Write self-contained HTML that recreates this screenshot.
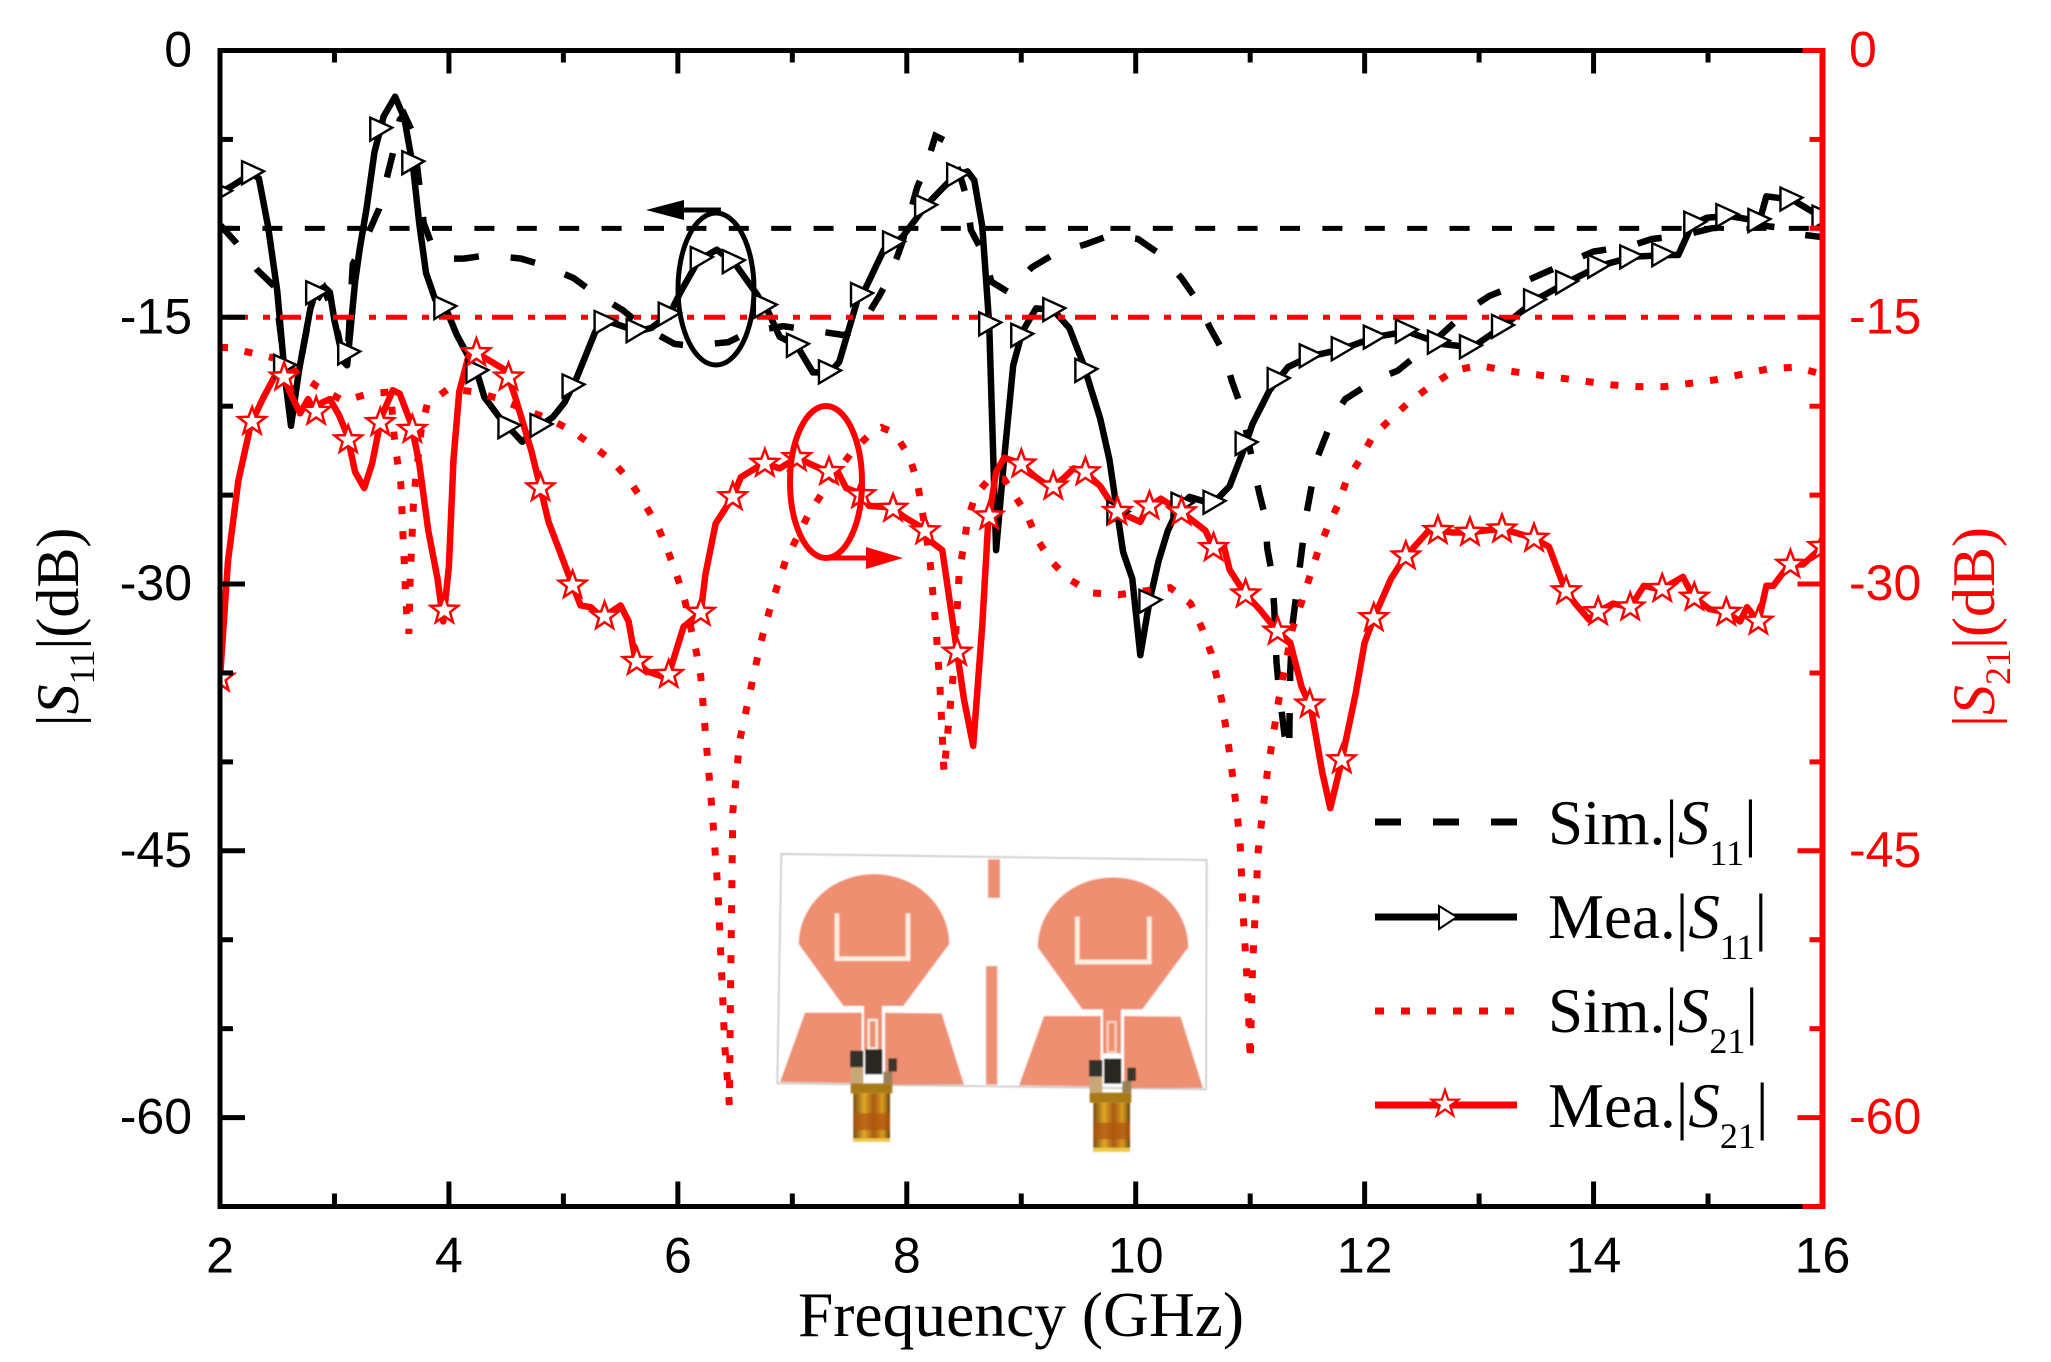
<!DOCTYPE html>
<html lang="en">
<head>
<meta charset="utf-8">
<title>S-parameter chart</title>
<style>
html,body{margin:0;padding:0;background:#fff;width:2051px;height:1362px;overflow:hidden}
svg{display:block}
text{font-family:"Liberation Sans",sans-serif}
.serif,.serif tspan{font-family:"Liberation Serif",serif}
</style>
</head>
<body>
<svg id="chart" xmlns="http://www.w3.org/2000/svg" width="2051" height="1362" viewBox="0 0 2051 1362">
<defs>
<clipPath id="plot-clip"><rect x="220" y="50" width="1603" height="1157"/></clipPath>
<linearGradient id="barrel" x1="0" y1="0" x2="1" y2="0">
<stop offset="0" stop-color="#7a4a10"/><stop offset=".3" stop-color="#e0a828"/><stop offset=".55" stop-color="#a85a12"/><stop offset=".8" stop-color="#d89a20"/><stop offset="1" stop-color="#6a4410"/>
</linearGradient>
<filter id="soft" x="-5%" y="-5%" width="110%" height="110%"><feGaussianBlur stdDeviation="2"/></filter>
</defs>
<rect x="0" y="0" width="2051" height="1362" fill="#fff"/>

<g id="series-layer" clip-path="url(#plot-clip)"></g>

<g transform="translate(760,840) scale(0.33333)">
  <g filter="url(#soft)">
  <polygon points="64,42 1340,60 1338,748 52,730" fill="#fff" stroke="#c8c8c8" stroke-width="5"/>
  <g fill="#ef8f72">
    <path d="M116,312 A226,210 0 1 1 568,312 L430,498 L250,498 Z"/>
    <rect x="312" y="495" width="54" height="135"/>
    <polygon points="135,518 305,518 305,730 60,726"/>
    <polygon points="375,518 545,520 612,734 375,734"/>
    <path d="M231,220 V356 H444 V220" fill="none" stroke="#fbeee2" stroke-width="14"/>
    <rect x="326" y="540" width="24" height="85" fill="none" stroke="#fbeee2" stroke-width="7"/>
  </g>
  <g fill="#ef8f72" transform="translate(717,10)">
    <path d="M116,312 A226,210 0 1 1 568,312 L430,498 L250,498 Z"/>
    <rect x="312" y="495" width="54" height="135"/>
    <polygon points="135,518 305,518 305,730 60,726"/>
    <polygon points="375,518 545,520 612,734 375,734"/>
    <path d="M235,220 V356 H451 V220" fill="none" stroke="#fbeee2" stroke-width="14"/>
    <rect x="326" y="536" width="24" height="90" fill="none" stroke="#f7d0bc" stroke-width="7"/>
  </g>
  <rect x="684" y="58" width="36" height="116" fill="#ef8f72"/>
  <rect x="678" y="378" width="34" height="356" fill="#ef8f72"/>
  <g>
    <rect x="270" y="632" width="40" height="50" fill="#33302a"/>
    <rect x="315" y="628" width="52" height="75" fill="#2a2824"/>
    <rect x="385" y="655" width="26" height="40" fill="#3a362c"/>
    <rect x="272" y="682" width="38" height="48" fill="#c9a878"/>
    <rect x="370" y="695" width="27" height="35" fill="#9a8058"/>
    <rect x="272" y="730" width="125" height="30" fill="#a87a12"/>
    <rect x="280" y="760" width="110" height="145" fill="url(#barrel)"/>
    <rect x="280" y="820" width="110" height="50" fill="#b0560f" opacity=".75"/>
    <rect x="280" y="895" width="110" height="10" fill="#f0c848"/>
  </g>
  <g transform="translate(717,28)">
    <rect x="270" y="632" width="40" height="50" fill="#33302a"/>
    <rect x="315" y="628" width="52" height="75" fill="#2a2824"/>
    <rect x="385" y="655" width="26" height="40" fill="#3a362c"/>
    <rect x="272" y="682" width="38" height="48" fill="#c9a878"/>
    <rect x="370" y="695" width="27" height="35" fill="#9a8058"/>
    <rect x="272" y="730" width="125" height="30" fill="#a87a12"/>
    <rect x="283" y="760" width="110" height="147" fill="url(#barrel)"/>
    <rect x="283" y="820" width="110" height="50" fill="#b0560f" opacity=".75"/>
    <rect x="283" y="895" width="110" height="12" fill="#f0c848"/>
  </g>
  </g>
</g>

<g id="ref-layer" clip-path="url(#plot-clip)"></g>
<g id="marker-layer" clip-path="url(#plot-clip)"></g>

<g>
  <ellipse cx="716" cy="289" rx="38" ry="76" fill="none" stroke="#000" stroke-width="5"/>
  <line x1="721" y1="210" x2="680" y2="210" stroke="#000" stroke-width="5"/>
  <polygon points="646,210 684,200 684,220" fill="#000"/>
</g>
<g>
  <ellipse cx="826" cy="482" rx="36" ry="76" fill="none" stroke="#f00" stroke-width="6"/>
  <line x1="826" y1="558" x2="870" y2="558" stroke="#f00" stroke-width="5"/>
  <polygon points="903,558 866,547 866,569" fill="#f00"/>
</g>

<g id="axis-layer"></g>

<text class="serif" x="1021" y="1336" text-anchor="middle" font-size="63.5" fill="#000">Frequency (GHz)</text>
<text class="serif" transform="translate(78,627) rotate(-90)" text-anchor="middle" font-size="60" fill="#000">|<tspan font-style="italic">S</tspan><tspan font-size="36" dy="16">11</tspan><tspan dy="-16">|(dB)</tspan></text>
<text class="serif" transform="translate(1994,627) rotate(-90)" text-anchor="middle" font-size="60" fill="#f00">|<tspan font-style="italic">S</tspan><tspan font-size="36" dy="16">21</tspan><tspan dy="-16">|(dB)</tspan></text>

<g>
  <g>
    <line x1="1375" y1="822" x2="1517" y2="822" stroke="#000" stroke-width="7" stroke-dasharray="26 32"/>
    <text class="serif" x="1548" y="844" font-size="63" fill="#000">Sim.|<tspan font-style="italic">S</tspan><tspan font-size="36" dy="21">11</tspan><tspan dy="-21">|</tspan></text>
  </g>
  <g>
    <line x1="1375" y1="917" x2="1517" y2="917" stroke="#000" stroke-width="7"/>
    <polygon points="1439,906 1439,929 1457,917" fill="#fff" stroke="#000" stroke-width="2"/>
    <text class="serif" x="1548" y="938" font-size="63" fill="#000">Mea.|<tspan font-style="italic">S</tspan><tspan font-size="36" dy="21">11</tspan><tspan dy="-21">|</tspan></text>
  </g>
  <g>
    <line x1="1375" y1="1011" x2="1517" y2="1011" stroke="#f00" stroke-width="7" stroke-dasharray="9 17"/>
    <text class="serif" x="1548" y="1032" font-size="63" fill="#000">Sim.|<tspan font-style="italic">S</tspan><tspan font-size="36" dy="21">21</tspan><tspan dy="-21">|</tspan></text>
  </g>
  <g>
    <line x1="1375" y1="1105" x2="1517" y2="1105" stroke="#f00" stroke-width="7"/>
    <polygon id="legend-star" fill="#fff" stroke="#f00" stroke-width="2.2"/>
    <text class="serif" x="1548" y="1127" font-size="63" fill="#000">Mea.|<tspan font-style="italic">S</tspan><tspan font-size="36" dy="21">21</tspan><tspan dy="-21">|</tspan></text>
  </g>
</g>
</svg>

<script>
// ---- chart data ----
const xTickLabels = [2,4,6,8,10,12,14,16];
const xMinorTicks = [3,5,7,9,11,13,15];
const yTickLabels = [0,-15,-30,-45,-60];
const yMinorTicks = [-5,-10,-20,-25,-35,-40,-50,-55];
const s11Threshold = -10;
const s21Threshold = -15;
const markerFreqStep = 0.28;

const meaS11Freq = [2.00,2.11,2.28,2.34,2.42,2.50,2.57,2.62,2.69,2.79,2.83,2.91,2.96,3.00,3.08,3.11,3.18,3.22,3.28,3.35,3.43,3.53,3.61,3.69,3.74,3.80,3.88,3.98,4.07,4.17,4.25,4.31,4.45,4.64,4.82,4.91,5.01,5.11,5.28,5.38,5.65,5.77,5.93,6.03,6.18,6.34,6.50,6.69,6.79,6.89,7.04,7.18,7.33,7.41,7.57,7.63,7.80,7.96,8.17,8.41,8.53,8.59,8.66,8.72,8.78,8.85,8.93,9.01,9.13,9.28,9.42,9.54,9.69,9.77,9.89,9.97,10.04,10.12,10.20,10.28,10.375,10.47,10.67,10.82,10.94,11.02,11.17,11.33,11.52,11.80,12.10,12.37,12.67,12.94,13.21,13.50,13.78,14.06,14.34,14.63,14.74,14.86,14.99,15.18,15.45,15.51,15.74,16.00];
const meaS11Db = [-8.0,-7.6,-6.9,-7.2,-9.9,-13.5,-18.5,-21.1,-18.0,-14.5,-13.7,-13.3,-13.6,-15.2,-17.5,-17.7,-13.0,-11.2,-8.9,-5.7,-3.7,-2.6,-3.8,-6.7,-9.7,-12.5,-14.0,-14.6,-16.0,-17.2,-18.2,-19.5,-20.7,-22.0,-21.0,-20.6,-19.8,-18.5,-15.8,-15.2,-15.8,-15.6,-14.8,-13.5,-11.8,-11.2,-12.0,-13.7,-14.7,-16.1,-16.6,-18.1,-18.1,-17.5,-14.0,-13.5,-11.2,-10.5,-8.7,-7.1,-6.8,-7.3,-9.9,-15.4,-28.1,-23.0,-17.7,-15.8,-14.5,-14.6,-15.6,-17.6,-20.7,-23.0,-28.2,-29.7,-34.0,-31.0,-28.7,-27.0,-25.7,-25.1,-25.5,-24.5,-22.5,-21.0,-19.1,-17.8,-17.2,-16.8,-16.1,-15.8,-16.5,-16.7,-15.5,-14.0,-13.0,-12.1,-11.6,-11.5,-11.5,-9.8,-9.4,-9.3,-9.6,-8.2,-8.4,-9.4];

const meaS21Freq = [2.00,2.07,2.16,2.27,2.38,2.48,2.55,2.61,2.70,2.77,2.83,2.89,2.96,3.04,3.11,3.18,3.26,3.33,3.41,3.51,3.57,3.67,3.74,3.82,3.90,3.95,4.00,4.04,4.09,4.17,4.24,4.37,4.50,4.58,4.72,4.80,4.87,4.97,5.07,5.15,5.24,5.34,5.50,5.57,5.63,5.73,5.91,6.05,6.20,6.24,6.33,6.48,6.55,6.75,6.89,7.04,7.31,7.39,7.47,7.59,7.67,7.87,7.97,8.15,8.21,8.31,8.43,8.50,8.58,8.66,8.71,8.78,8.85,8.99,9.11,9.26,9.36,9.46,9.56,9.69,9.83,10.04,10.10,10.22,10.39,10.61,10.69,10.77,10.82,10.95,11.08,11.23,11.35,11.45,11.53,11.63,11.70,11.79,11.92,12.00,12.08,12.23,12.35,12.56,12.65,12.77,12.92,13.04,13.19,13.31,13.47,13.61,13.75,13.84,13.96,14.03,14.17,14.32,14.44,14.59,14.78,14.87,15.01,15.16,15.28,15.34,15.44,15.51,15.57,15.71,15.83,16.00];
const meaS21Db = [-35.3,-28.7,-24.2,-21.0,-19.5,-18.3,-18.2,-19.2,-20.4,-19.6,-20.4,-19.8,-19.6,-20.5,-21.6,-23.7,-24.6,-23.2,-20.6,-19.1,-19.3,-21.0,-23.2,-27.0,-29.7,-32.1,-29.0,-23.0,-19.2,-17.2,-17.0,-17.5,-18.0,-19.5,-22.5,-24.6,-26.5,-28.2,-29.9,-31.2,-31.3,-31.9,-31.2,-32.1,-34.3,-34.9,-35.3,-32.4,-31.6,-29.5,-26.6,-25.1,-24.0,-23.2,-23.5,-22.9,-23.7,-23.6,-24.6,-24.9,-25.6,-25.7,-26.2,-26.9,-27.6,-28.1,-33.4,-36.5,-39.1,-32.3,-26.6,-23.7,-22.9,-23.2,-23.9,-24.6,-24.1,-23.5,-23.7,-24.5,-25.9,-26.5,-25.7,-25.2,-25.9,-27.0,-28.1,-27.9,-29.2,-30.5,-31.4,-32.6,-33.3,-35.8,-36.9,-40.6,-42.6,-40.2,-36.2,-33.3,-31.9,-29.7,-28.5,-27.0,-27.0,-27.1,-27.1,-27.0,-26.9,-27.1,-27.4,-27.9,-30.3,-31.1,-32.0,-31.6,-31.1,-31.3,-30.1,-30.3,-29.6,-30.7,-31.4,-31.6,-32.1,-31.3,-32.1,-30.1,-30.1,-28.9,-28.9,-27.9];

const simS11Freq = [2.00,2.14,2.32,2.48,2.57,2.62,2.69,2.79,2.91,3.00,3.08,3.11,3.16,3.26,3.39,3.51,3.57,3.61,3.69,3.78,3.86,4.00,4.13,4.35,4.63,4.84,5.09,5.26,5.52,5.69,5.97,6.11,6.44,6.63,6.92,7.14,7.45,7.59,7.76,7.86,7.96,8.01,8.09,8.17,8.25,8.375,8.46,8.52,8.56,8.66,8.74,8.89,9.09,9.30,9.56,9.77,10.02,10.20,10.40,10.53,10.65,10.77,10.84,10.92,11.08,11.13,11.15,11.19,11.21,11.23,11.25,11.30,11.34,11.35,11.37,11.43,11.49,11.58,11.72,11.83,12.10,12.29,12.52,12.65,12.90,13.09,13.36,13.57,13.82,14.00,14.32,14.51,14.78,15.03,15.41,15.62,15.76,16.00];
const simS11Db = [-9.8,-10.8,-12.3,-13.3,-18.0,-20.8,-18.0,-14.6,-13.4,-15.0,-17.4,-17.6,-12.0,-10.8,-8.9,-5.8,-3.9,-3.6,-4.7,-9.7,-11.1,-11.7,-11.7,-11.5,-11.7,-12.1,-12.8,-13.6,-14.6,-15.5,-16.5,-16.6,-16.4,-15.8,-15.5,-15.7,-16.0,-15.6,-13.8,-12.6,-10.8,-9.6,-7.7,-6.5,-4.8,-5.2,-6.9,-8.2,-10.1,-11.3,-13.0,-13.6,-12.2,-11.4,-10.9,-10.4,-10.6,-11.4,-12.8,-14.0,-15.6,-17.0,-18.6,-20.0,-24.9,-26.2,-28.0,-29.4,-31.3,-34.4,-35.8,-38.5,-39.5,-35.0,-32.3,-29.2,-26.1,-23.0,-20.7,-19.6,-18.5,-18.0,-16.8,-16.1,-14.6,-13.8,-13.1,-12.5,-11.8,-11.3,-11.0,-10.6,-10.4,-10.0,-9.8,-9.95,-10.3,-10.5];

const simS21Freq = [2.00,2.08,2.27,2.48,2.67,2.85,3.08,3.30,3.49,3.52,3.55,3.58,3.59,3.60,3.61,3.62,3.63,3.65,3.66,3.68,3.69,3.71,3.76,3.81,4.00,4.22,4.45,4.66,4.87,5.08,5.25,5.43,5.58,5.71,5.82,5.91,5.99,6.06,6.16,6.20,6.25,6.30,6.35,6.38,6.41,6.45,6.46,6.48,6.54,6.64,6.69,6.74,6.80,6.87,6.94,7.04,7.14,7.26,7.39,7.53,7.69,7.78,7.89,8.02,8.09,8.13,8.20,8.22,8.24,8.26,8.29,8.325,8.41,8.46,8.50,8.53,8.60,8.72,8.85,8.92,9.05,9.14,9.26,9.41,9.62,9.85,10.06,10.30,10.48,10.58,10.66,10.71,10.75,10.83,10.91,10.94,10.98,11.00,11.02,11.07,11.15,11.25,11.37,11.45,11.52,11.59,11.67,11.77,11.84,11.96,12.07,12.23,12.40,12.59,12.78,13.00,13.23,13.47,13.69,13.93,14.16,14.39,14.62,14.86,15.08,15.30,15.53,15.76,16.00];
const simS21Db = [-16.7,-16.7,-17.0,-17.3,-18.1,-18.9,-19.7,-19.3,-19.2,-21.6,-23.1,-24.4,-25.9,-27.4,-28.8,-30.3,-31.6,-32.8,-30.0,-27.0,-25.5,-24.1,-21.2,-19.9,-19.0,-19.2,-19.6,-20.2,-20.7,-21.4,-22.2,-23.1,-24.2,-25.5,-26.7,-28.1,-29.5,-30.9,-33.8,-35.2,-39.1,-42.8,-47.2,-51.6,-56.0,-59.3,-53.0,-42.8,-38.8,-35.8,-34.3,-32.9,-31.5,-30.1,-28.7,-27.4,-26.1,-24.9,-23.7,-22.5,-21.5,-21.2,-21.5,-22.8,-24.2,-25.7,-28.5,-30.0,-31.4,-32.9,-35.8,-40.6,-34.8,-29.2,-27.8,-26.4,-25.0,-24.1,-24.1,-24.8,-26.1,-27.5,-28.7,-29.7,-30.5,-30.6,-30.4,-30.2,-31.1,-32.5,-33.9,-35.3,-36.5,-39.9,-44.3,-48.7,-53.1,-56.8,-51.6,-45.0,-40.6,-36.5,-32.5,-31.0,-29.6,-28.2,-26.9,-25.5,-24.2,-23.0,-21.7,-20.7,-19.7,-18.8,-18.0,-17.7,-18.0,-18.2,-18.4,-18.6,-18.8,-18.9,-18.9,-18.7,-18.5,-18.2,-17.9,-17.8,-18.2];

// ---- axis functions ----
const plotLeft = 220, plotRight = 1822.5, plotTop = 50.5, plotBottom = 1206.5;
const xMin = 2, xMax = 16, yMax = 0, yMin = -65;
function xScale(f){ return plotLeft + (f - xMin) / (xMax - xMin) * (plotRight - plotLeft); }
function yScale(v){ return plotTop + (yMax - v) / (yMax - yMin) * (plotBottom - plotTop); }

const NS = 'http://www.w3.org/2000/svg';
function make(tag, parent){ const el = document.createElementNS(NS, tag); parent.appendChild(el); return el; }
function pathFrom(freqs, vals){ return freqs.map((f,i)=>(i?'L':'M')+xScale(f).toFixed(1)+' '+yScale(vals[i]).toFixed(1)).join(' '); }
function valueAt(freqs, vals, f){
  for(let i=1;i<freqs.length;i++){
    if(f<=freqs[i]){ const t=(f-freqs[i-1])/(freqs[i]-freqs[i-1]); return vals[i-1]+t*(vals[i]-vals[i-1]); }
  }
  return vals[vals.length-1];
}
function starPoints(cx,cy,R,r){
  const p=[];
  for(let i=0;i<10;i++){ const a=-Math.PI/2+i*Math.PI/5, q=i%2?r:R; p.push((cx+q*Math.cos(a)).toFixed(1)+','+(cy+q*Math.sin(a)).toFixed(1)); }
  return p.join(' ');
}

const seriesLayer = document.getElementById('series-layer');
const refLayer = document.getElementById('ref-layer');
const markerLayer = document.getElementById('marker-layer');
const axisLayer = document.getElementById('axis-layer');

// ---- series ----
const lineSimS11 = make('path', seriesLayer);


lineSimS11.setAttribute('d', pathFrom(simS11Freq, simS11Db));
lineSimS11.setAttribute('fill', 'none');
lineSimS11.setAttribute('stroke', '#000');
lineSimS11.setAttribute('stroke-width', '6.5');
lineSimS11.setAttribute('stroke-dasharray', '25 32');

const lineMeaS11 = make('path', seriesLayer);


lineMeaS11.setAttribute('d', pathFrom(meaS11Freq, meaS11Db));
lineMeaS11.setAttribute('fill', 'none');
lineMeaS11.setAttribute('stroke', '#000');
lineMeaS11.setAttribute('stroke-width', '6.5');
lineMeaS11.setAttribute('stroke-linejoin', 'round');

const lineSimS21 = make('path', seriesLayer);


lineSimS21.setAttribute('d', pathFrom(simS21Freq, simS21Db));
lineSimS21.setAttribute('fill', 'none');
lineSimS21.setAttribute('stroke', '#f00');
lineSimS21.setAttribute('stroke-width', '7');
lineSimS21.setAttribute('stroke-dasharray', '8 17');

const lineMeaS21 = make('path', seriesLayer);


lineMeaS21.setAttribute('d', pathFrom(meaS21Freq, meaS21Db));
lineMeaS21.setAttribute('fill', 'none');
lineMeaS21.setAttribute('stroke', '#f00');
lineMeaS21.setAttribute('stroke-width', '6.5');
lineMeaS21.setAttribute('stroke-linejoin', 'round');

// ---- reference lines ----
const refS11 = make('line', refLayer);


refS11.setAttribute('x1', plotLeft);
refS11.setAttribute('x2', plotRight);
refS11.setAttribute('y1', yScale(s11Threshold));
refS11.setAttribute('y2', yScale(s11Threshold));
refS11.setAttribute('stroke', '#000');
refS11.setAttribute('stroke-width', '5');
refS11.setAttribute('stroke-dasharray', '20 22.4');

const refS21 = make('line', refLayer);


refS21.setAttribute('x1', plotLeft + 7);
refS21.setAttribute('x2', plotRight);
refS21.setAttribute('y1', yScale(s21Threshold));
refS21.setAttribute('y2', yScale(s21Threshold));
refS21.setAttribute('stroke', '#f00');
refS21.setAttribute('stroke-width', '5');
refS21.setAttribute('stroke-dasharray', '21 15 7 10');

// ---- markers, placed on the measured curves ----
for (let f = xMin; f <= xMax + 0.001; f += markerFreqStep) {
  const x = xScale(f), y = yScale(valueAt(meaS11Freq, meaS11Db, f));
  const tri = make('polygon', markerLayer);
  
  
  tri.setAttribute('points', (x-10)+','+(y-12)+' '+(x-10)+','+(y+11)+' '+(x+12)+','+(y-2));
  tri.setAttribute('fill', '#fff');
  tri.setAttribute('stroke', '#000');
  tri.setAttribute('stroke-width', '2.4');
}
for (let f = xMin; f <= xMax + 0.001; f += markerFreqStep) {
  const x = xScale(f), y = yScale(valueAt(meaS21Freq, meaS21Db, f));
  const star = make('polygon', markerLayer);
  
  
  star.setAttribute('points', starPoints(x, y, 14.5, 6));
  star.setAttribute('fill', '#fff');
  star.setAttribute('stroke', '#f00');
  star.setAttribute('stroke-width', '2.5');
}
document.getElementById('legend-star').setAttribute('points', starPoints(1445, 1104, 14, 5.5));

// ---- axes ----
function tickLine(x1,y1,x2,y2,color,width,name){
  const t = make('line', axisLayer);
  
  
  t.setAttribute('x1', x1);
  t.setAttribute('y1', y1);
  t.setAttribute('x2', x2);
  t.setAttribute('y2', y2);
  t.setAttribute('stroke', color);
  t.setAttribute('stroke-width', width);
}
tickLine(plotLeft, plotTop, plotRight - 20, plotTop, '#000', 5, 'top-axis-line');
tickLine(plotLeft, plotBottom, plotRight - 20, plotBottom, '#000', 5, 'x-axis-line');
tickLine(plotLeft, plotTop - 2.5, plotLeft, plotBottom + 2.5, '#000', 5, 'left-y-axis-line');
tickLine(plotRight - 20, plotTop, plotRight, plotTop, '#f00', 5, 'top-axis-corner');
tickLine(plotRight - 20, plotBottom, plotRight, plotBottom, '#f00', 5, 'bottom-axis-corner');
tickLine(plotRight, plotTop - 2.5, plotRight, plotBottom + 2.5, '#f00', 6, 'right-y-axis-line');

xTickLabels.forEach(function(v){
  const x = xScale(v);
  if (v > xMin && v < xMax) {
    tickLine(x, plotBottom, x, plotBottom - 25, '#000', 5, 'x-major-tick');
    tickLine(x, plotTop, x, plotTop + 23, '#000', 5, 'x-top-major-tick');
  }
  const label = make('text', axisLayer);
  
  
  label.setAttribute('x', x);
  label.setAttribute('y', plotBottom + 66);
  label.setAttribute('text-anchor', 'middle');
  label.setAttribute('font-size', '50');
  label.textContent = String(v);
});
xMinorTicks.forEach(function(v){
  const x = xScale(v);
  tickLine(x, plotBottom, x, plotBottom - 13, '#000', 5, 'x-minor-tick');
  tickLine(x, plotTop, x, plotTop + 12, '#000', 5, 'x-top-minor-tick');
});
yTickLabels.forEach(function(v){
  const y = yScale(v);
  if (v < yMax) {
    tickLine(plotLeft, y, plotLeft + 25, y, '#000', 5, 'left-major-tick');
    tickLine(plotRight, y, plotRight - 25, y, '#f00', 5, 'right-major-tick');
  }
  const left = make('text', axisLayer);
  
  
  left.setAttribute('x', 192);
  left.setAttribute('y', y + 16);
  left.setAttribute('text-anchor', 'end');
  left.setAttribute('font-size', '50');
  left.textContent = String(v);
  const right = make('text', axisLayer);
  
  
  right.setAttribute('x', 1849);
  right.setAttribute('y', y + 16);
  right.setAttribute('font-size', '50');
  right.setAttribute('fill', '#f00');
  right.textContent = String(v);
});
yMinorTicks.forEach(function(v){
  const y = yScale(v);
  tickLine(plotLeft, y, plotLeft + 13, y, '#000', 5, 'left-minor-tick');
  tickLine(plotRight, y, plotRight - 13, y, '#f00', 5, 'right-minor-tick');
});
</script>
</body>
</html>
